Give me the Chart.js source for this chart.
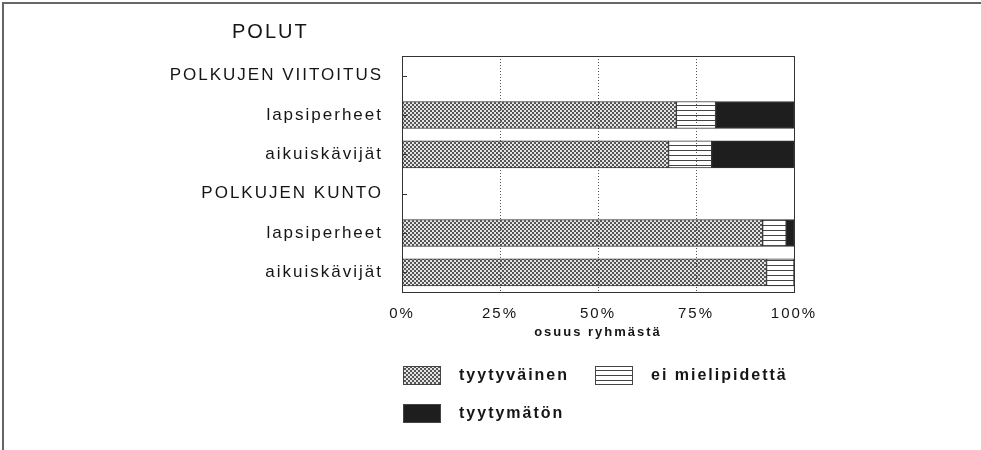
<!DOCTYPE html>
<html>
<head>
<meta charset="utf-8">
<script src="https://cdn.jsdelivr.net/npm/chart.js@4"></script>
<style>
  body { margin: 0; background: #fff; }
  #wrap { width: 981px; height: 450px; position: relative; }
</style>
</head>
<body>
<div id="wrap"><canvas id="PolutChart"></canvas></div>
<script>
const chartTitle = 'POLUT';
const categories = ['POLKUJEN VIITOITUS', 'lapsiperheet', 'aikuiskävijät', 'POLKUJEN KUNTO', 'lapsiperheet', 'aikuiskävijät'];
const seriesNames = ['tyytyväinen', 'ei mielipidettä', 'tyytymätön'];
const tyytyvainen = [null, 70, 68, null, 92, 93];
const eiMielipidetta = [null, 10, 11, null, 6, 7];
const tyytymaton = [null, 20, 21, null, 2, 0];
const xTicks = [0, 25, 50, 75, 100];

const fontFamily = '"Liberation Sans", Arial, sans-serif';
const textColor = '#151515';

// little canvases for the hatch fills
function checkerFill() {
  const c = document.createElement('canvas');
  c.width = 4; c.height = 4;
  const g = c.getContext('2d');
  g.fillStyle = '#e4e4e4';
  g.fillRect(0, 0, 4, 4);
  g.fillStyle = '#555';
  g.fillRect(0, 0, 2, 2);
  g.fillRect(2, 2, 2, 2);
  return g.createPattern(c, 'repeat');
}
function lineFill() {
  const c = document.createElement('canvas');
  c.width = 4; c.height = 5;
  const g = c.getContext('2d');
  g.fillStyle = '#fff';
  g.fillRect(0, 0, 4, 5);
  g.fillStyle = '#444';
  g.fillRect(0, 0, 4, 1);
  return g.createPattern(c, 'repeat');
}

// frame, title, plot box, inner ticks and the legend underneath
const paperPlugin = {
  id: 'paper',
  beforeDraw(chart) {
    const ctx = chart.ctx;
    ctx.letterSpacing = '2px';
    ctx.save();
    ctx.fillStyle = '#666';
    ctx.fillRect(2, 2, chart.width - 2, 2);
    ctx.fillRect(2, 2, 2, chart.height - 2);

    ctx.fillStyle = textColor;
    ctx.font = '20px ' + fontFamily;
    ctx.textBaseline = 'middle';
    ctx.textAlign = 'left';
    ctx.fillText(chartTitle, 232, 32);
    ctx.restore();
  },
  afterDraw(chart) {
    const ctx = chart.ctx;
    const a = chart.chartArea;
    const yScale = chart.scales.y;
    ctx.save();
    ctx.strokeStyle = '#333';
    ctx.lineWidth = 1;
    ctx.strokeRect(a.left + 0.5, a.top + 0.5, a.right - a.left, a.bottom - a.top);
    ctx.beginPath();
    categories.forEach((c, i) => {
      const y = Math.round(yScale.getPixelForValue(i)) + 0.5;
      ctx.moveTo(a.left, y);
      ctx.lineTo(a.left + 5, y);
    });
    ctx.stroke();

    // legend, two per row
    ctx.font = 'bold 16px ' + fontFamily;
    ctx.textBaseline = 'middle';
    ctx.textAlign = 'left';
    chart.data.datasets.forEach((ds, i) => {
      const x = a.left + 1 + (i % 2) * 192;
      const y = a.bottom + 74 + Math.floor(i / 2) * 38;
      ctx.fillStyle = ds.backgroundColor;
      ctx.fillRect(x, y, 38, 19);
      ctx.strokeStyle = '#444';
      ctx.strokeRect(x + 0.5, y + 0.5, 37, 18);
      ctx.fillStyle = textColor;
      ctx.fillText(ds.label, x + 56, y + 10);
    });
    ctx.restore();
  }
};

new Chart(document.getElementById('PolutChart'), {
  type: 'bar',
  data: {
    labels: categories,
    datasets: [
      { label: seriesNames[0], data: tyytyvainen, backgroundColor: checkerFill() },
      { label: seriesNames[1], data: eiMielipidetta, backgroundColor: lineFill() },
      { label: seriesNames[2], data: tyytymaton, backgroundColor: '#1e1e1e' }
    ].map(d => Object.assign(d, {
      borderColor: '#333',
      borderWidth: 1,
      borderSkipped: false,
      barThickness: 27
    }))
  },
  options: {
    indexAxis: 'y',
    responsive: true,
    maintainAspectRatio: false,
    animation: false,
    layout: { padding: { left: 0, right: 187, top: 56, bottom: 108 } },
    plugins: {
      legend: { display: false },
      tooltip: { enabled: false },
      title: { display: false }
    },
    scales: {
      x: {
        stacked: true,
        min: 0,
        max: 100,
        afterBuildTicks: s => { s.ticks = xTicks.map(v => ({ value: v })); },
        afterFit: s => { s.height = 50; },
        border: { display: false, dash: [1, 2] },
        grid: { color: '#555', lineWidth: 1, drawTicks: false, z: 1 },
        ticks: {
          callback: v => v + '%',
          color: textColor,
          padding: 13,
          font: { family: fontFamily, size: 15 }
        },
        title: {
          display: true,
          text: 'osuus ryhmästä',
          color: textColor,
          font: { family: fontFamily, size: 13, weight: 'bold' },
          padding: { top: 0, bottom: 2 }
        }
      },
      y: {
        stacked: true,
        afterFit: s => { s.width = 402; },
        border: { display: false },
        grid: { display: false, drawTicks: false },
        ticks: {
          autoSkip: false,
          color: textColor,
          padding: 19,
          font: { family: fontFamily, size: 17 }
        }
      }
    }
  },
  plugins: [paperPlugin]
});
</script>
</body>
</html>
